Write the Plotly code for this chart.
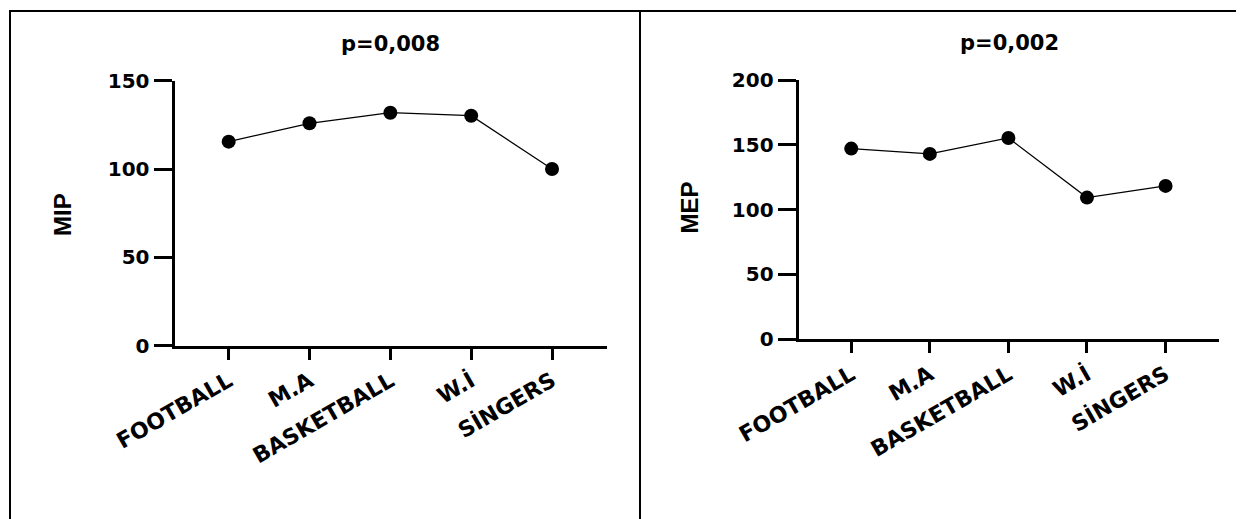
import plotly.graph_objects as go

categories = ["FOOTBALL", "M.A", "BASKETBALL", "W.İ", "SİNGERS"]
mip_values = [115.5, 125.9, 131.9, 130.2, 100.0]
mep_values = [147.1, 143.0, 155.3, 109.3, 118.3]
titles = ["p=0,008", "p=0,002"]
y_titles = ["MIP", "MEP"]
mip_ticks = [0, 50, 100, 150]
mep_ticks = [0, 50, 100, 150, 200]

# page body has an 8px margin; build the figure so that it lands on the window pixels
OFF = 8
W, H = 1244 - OFF, 519 - OFF
def px_x(v): return (v - OFF) / W
def px_y(v): return 1 - (v - OFF) / H

fig = go.Figure()
x_idx = list(range(len(categories)))
for vals, xa, ya in [(mip_values, "x", "y"), (mep_values, "x2", "y2")]:
    fig.add_trace(go.Scatter(
        x=x_idx, y=vals, xaxis=xa, yaxis=ya, mode="lines+markers",
        line=dict(color="black", width=1.3),
        marker=dict(color="black", size=14),
        showlegend=False, cliponaxis=False,
    ))

tickfont = dict(family="DejaVu Sans", size=20, color="black", weight="bold")
catfont = dict(family="DejaVu Sans", size=22, color="black", weight="bold")

common_x = dict(
    range=[-0.67, 4.68], tickmode="array", tickvals=x_idx, ticktext=categories,
    tickangle=-30, ticks="outside", ticklen=11, tickwidth=3, tickcolor="black",
    showline=True, linewidth=3, linecolor="black", showgrid=False, zeroline=False,
    tickfont=catfont, fixedrange=True, automargin=False,
)
common_y = dict(
    ticks="outside", ticklen=18, tickwidth=3, tickcolor="black",
    showline=True, linewidth=3, linecolor="black", showgrid=False, zeroline=False,
    tickfont=tickfont, fixedrange=True, automargin=False,
)

fig.update_layout(
    template="none",
    width=W, height=H, margin=dict(l=0, r=0, t=0, b=0, pad=0), autosize=False,
    paper_bgcolor="white", plot_bgcolor="white",
    xaxis=dict(common_x, domain=[px_x(174.5), px_x(607)], anchor="y"),
    yaxis=dict(common_y, domain=[px_y(345.7), px_y(80.7)], range=[0, 150],
               tickvals=mip_ticks, anchor="x"),
    xaxis2=dict(common_x, domain=[px_x(798.6), px_x(1219)], anchor="y2"),
    yaxis2=dict(common_y, domain=[px_y(339.3), px_y(80)], range=[0, 200],
                tickvals=mep_ticks, anchor="x2"),
)

# panel titles
for t, cx, cy in [(titles[0], 390, 44), (titles[1], 1009, 43)]:
    fig.add_annotation(text=t, x=px_x(cx), y=px_y(cy), xref="paper", yref="paper",
                       showarrow=False, xanchor="center", yanchor="middle",
                       font=dict(family="DejaVu Sans", size=21, color="black", weight="bold"))

# y-axis titles
for t, cx, cy in [(y_titles[0], 62.5, 214.5), (y_titles[1], 688.5, 208)]:
    fig.add_annotation(text=t, x=px_x(cx), y=px_y(cy), xref="paper", yref="paper",
                       showarrow=False, xanchor="center", yanchor="middle", textangle=-90,
                       font=dict(family="Liberation Sans", size=24, color="black", weight="bold"))

# frame lines
frame = dict(type="line", xref="paper", yref="paper", line=dict(color="black", width=2))
fig.add_shape(frame, x0=px_x(9), x1=1, y0=px_y(11), y1=px_y(11))
fig.add_shape(frame, x0=px_x(10), x1=px_x(10), y0=px_y(11), y1=0)
fig.add_shape(frame, x0=px_x(640), x1=px_x(640), y0=px_y(11), y1=0)

fig.write_html("out.html", config=dict(displayModeBar=False))
